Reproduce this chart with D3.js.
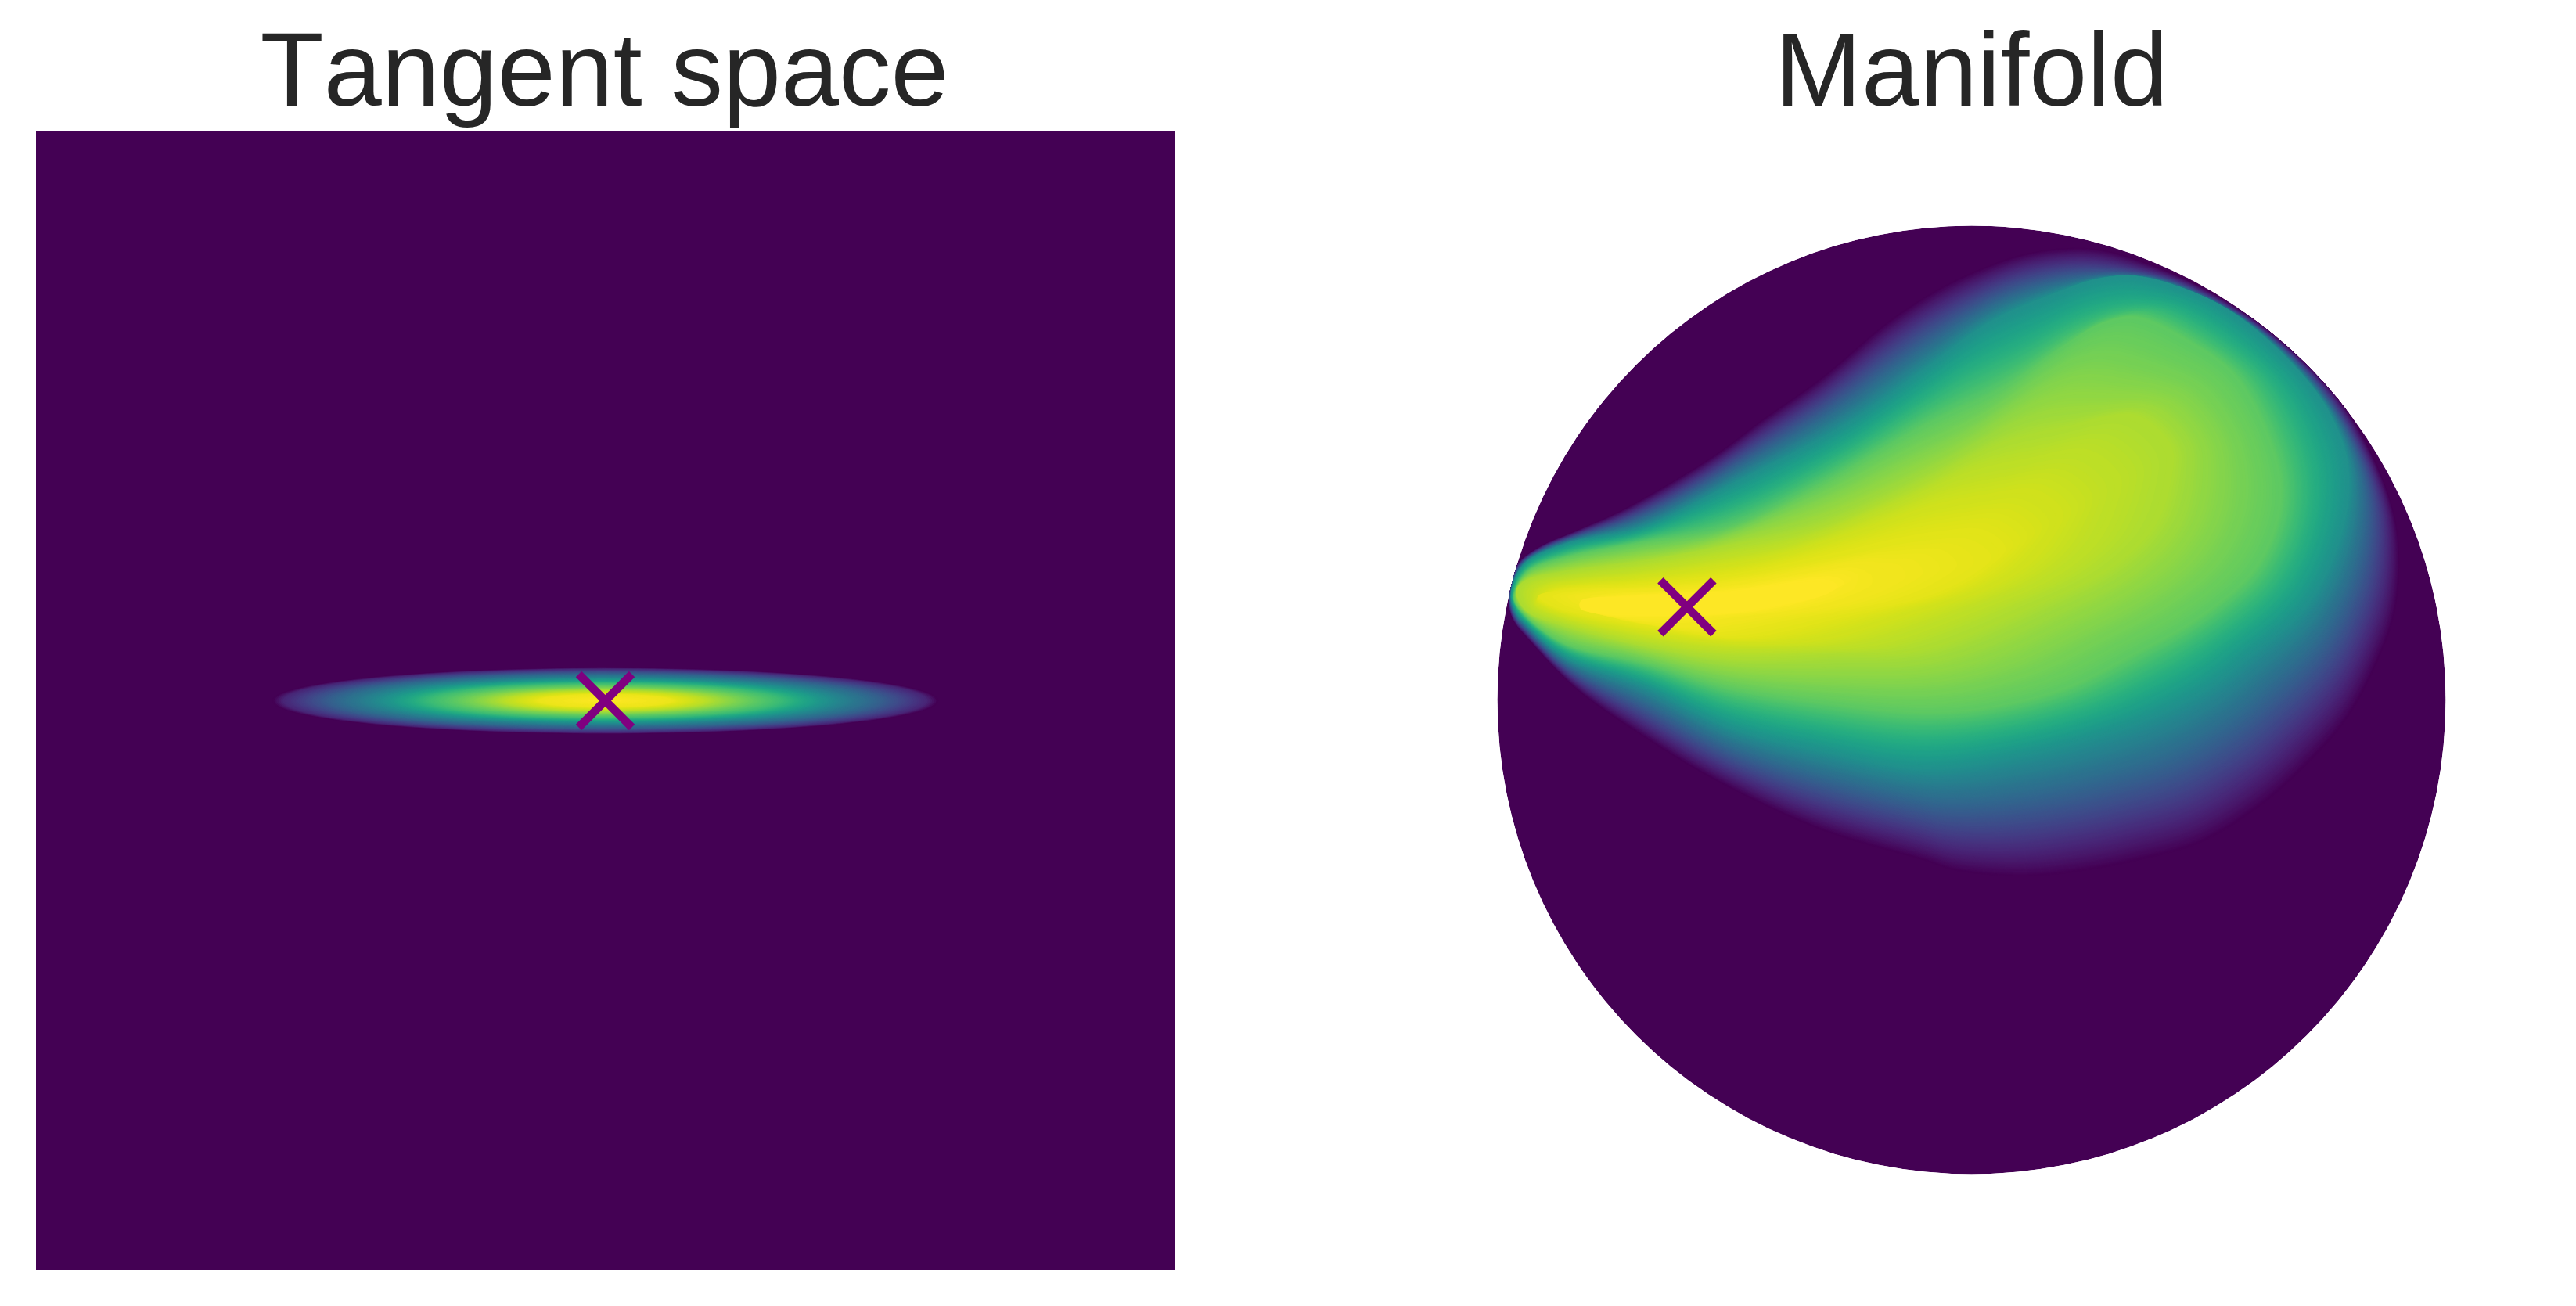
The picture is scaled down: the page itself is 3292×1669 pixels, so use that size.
<!DOCTYPE html>
<html>
<head>
<meta charset="utf-8">
<script src="https://cdn.jsdelivr.net/npm/d3@7/dist/d3.min.js"></script>
<style>html,body{margin:0;padding:0;background:#fff}svg{display:block}</style>
</head>
<body>
<script>
// ---- Panel titles
const panelTitles = ["Tangent space", "Manifold"];

// ---- Tangent space: elliptical density, level read along the normalised radius
const tangentCentre = [0, 0];
const tangentRadii = [0.585, 0.058];
const tangentRho = [0, 0.2, 0.3, 0.42, 0.53, 0.667, 0.83, 0.97, 1];
const tangentLevel = [1, 0.97, 0.9, 0.78, 0.68, 0.5, 0.3, 0.1, 0];

// ---- Manifold: iso-density contours, in unit-disc coordinates
const manifoldLevels = [0, 0.5, 0.75, 0.875, 0.96, 1];
const contourEdge = [[-0.976,0.205],[-0.960,0.283],[-0.915,0.321],[-0.834,0.357],[-0.732,0.403],[-0.540,0.517],[-0.445,0.588],[-0.319,0.677],[-0.171,0.801],[-0.060,0.872],[0.042,0.918],[0.115,0.941],[0.189,0.952],[0.263,0.951],[0.336,0.933],[0.483,0.872],[0.631,0.776],[0.778,0.630],[0.852,0.501],[0.892,0.387],[0.902,0.293],[0.892,0.184],[0.862,0.095],[0.793,-0.037],[0.697,-0.146],[0.601,-0.229],[0.483,-0.301],[0.347,-0.339],[0.263,-0.356],[0.115,-0.372],[-0.032,-0.360],[-0.098,-0.339],[-0.319,-0.273],[-0.540,-0.169],[-0.687,-0.080],[-0.834,0.024],[-0.930,0.123],[-0.966,0.167]];
const contourTeal = [[-0.971,0.222],[-0.945,0.285],[-0.857,0.329],[-0.692,0.366],[-0.511,0.453],[-0.260,0.585],[-0.098,0.699],[0.042,0.799],[0.182,0.860],[0.265,0.888],[0.347,0.894],[0.463,0.862],[0.557,0.813],[0.667,0.719],[0.748,0.618],[0.793,0.501],[0.785,0.370],[0.712,0.205],[0.578,0.085],[0.499,0.024],[0.380,-0.037],[0.263,-0.078],[0.115,-0.116],[-0.098,-0.146],[-0.319,-0.108],[-0.511,-0.059],[-0.692,0.029],[-0.857,0.090],[-0.940,0.161],[-0.960,0.184]];
const contourGreen = [[-0.965,0.214],[-0.940,0.268],[-0.857,0.301],[-0.692,0.333],[-0.511,0.365],[-0.313,0.458],[-0.098,0.580],[0.067,0.659],[0.199,0.750],[0.275,0.795],[0.347,0.808],[0.463,0.755],[0.557,0.684],[0.628,0.552],[0.653,0.453],[0.644,0.370],[0.595,0.271],[0.479,0.172],[0.347,0.098],[0.199,0.024],[0.034,-0.017],[-0.098,-0.027],[-0.296,-0.009],[-0.511,0.024],[-0.692,0.078],[-0.857,0.118],[-0.940,0.177]];
const contourLime = [[-0.960,0.230],[-0.940,0.252],[-0.857,0.271],[-0.692,0.293],[-0.511,0.326],[-0.313,0.370],[-0.098,0.463],[0.067,0.544],[0.199,0.577],[0.347,0.601],[0.422,0.535],[0.422,0.469],[0.389,0.370],[0.298,0.280],[0.133,0.197],[-0.098,0.106],[-0.296,0.093],[-0.511,0.087],[-0.692,0.115],[-0.857,0.156],[-0.940,0.189]];
const contourYellow = [[-0.915,0.219],[-0.857,0.233],[-0.692,0.243],[-0.511,0.260],[-0.313,0.296],[-0.098,0.336],[0.001,0.337],[0.042,0.301],[0.001,0.263],[-0.098,0.217],[-0.313,0.172],[-0.511,0.134],[-0.692,0.159],[-0.857,0.189],[-0.899,0.205]];
const contourPeak = [[-0.824,0.209],[-0.692,0.219],[-0.511,0.227],[-0.313,0.247],[-0.296,0.230],[-0.511,0.184],[-0.692,0.181],[-0.824,0.192]];
const manifoldContours = [contourEdge, contourTeal, contourGreen, contourLime, contourYellow, contourPeak];

// ---- Marker positions
const tangentMarker = [0, 0];
const manifoldMarker = [-0.600, 0.196];

// ---- Layout
const W = 3292, H = 1669;
const ink = "#262626", markerColor = "#800080";
const svg = d3.select("body").append("svg").attr("width", W).attr("height", H)
  .attr("viewBox", `0 0 ${W} ${H}`);
svg.append("rect").attr("width", W).attr("height", H).attr("fill", "#fff");

const tx = d3.scaleLinear().domain([-1, 1]).range([46, 1501]);
const ty = d3.scaleLinear().domain([-1, 1]).range([1623, 168]);
const mx = d3.scaleLinear().domain([-1, 1]).range([2519.5 - 606, 2519.5 + 606]);
const my = d3.scaleLinear().domain([-1, 1]).range([894.5 + 606, 894.5 - 606]);
const color = d3.interpolateViridis;

// ---- Left panel
const left = svg.append("g");
left.append("rect")
  .attr("x", tx(-1)).attr("y", ty(1))
  .attr("width", tx(1) - tx(-1)).attr("height", ty(-1) - ty(1))
  .attr("fill", color(0));
const rhoToLevel = d3.scaleLinear().domain(tangentRho).range(tangentLevel);
left.append("g").selectAll("ellipse")
  .data(d3.range(1, 0, -1 / 160))
  .join("ellipse")
  .attr("cx", tx(tangentCentre[0])).attr("cy", ty(tangentCentre[1]))
  .attr("rx", d => (tx(tangentRadii[0]) - tx(0)) * d)
  .attr("ry", d => (ty(0) - ty(tangentRadii[1])) * d)
  .attr("fill", d => color(rhoToLevel(d)));

// ---- Right panel
svg.append("clipPath").attr("id", "disc").append("circle")
  .attr("cx", mx(0)).attr("cy", my(0)).attr("r", mx(1) - mx(0));
const right = svg.append("g").attr("clip-path", "url(#disc)");
right.append("circle")
  .attr("cx", mx(0)).attr("cy", my(0)).attr("r", mx(1) - mx(0))
  .attr("fill", color(0));

const contourLine = d3.line().x(d => mx(d[0])).y(d => my(d[1]))
  .curve(d3.curveCatmullRomClosed.alpha(0.5));
const SAMPLES = 360;
const probe = svg.append("path").attr("fill", "none").attr("stroke", "none");
const resampled = manifoldContours.map(c => {
  probe.attr("d", contourLine(c));
  const node = probe.node(), L = node.getTotalLength();
  return d3.range(SAMPLES).map(i => {
    const p = node.getPointAtLength(L * i / SAMPLES);
    return [p.x, p.y];
  });
});
probe.remove();
const pixelLine = d3.line().curve(d3.curveLinearClosed);
const bands = right.append("g");
manifoldLevels.slice(0, -1).forEach((lo, k) => {
  const hi = manifoldLevels[k + 1];
  const steps = Math.max(8, Math.round((hi - lo) * 300));
  const between = d3.interpolate(resampled[k], resampled[k + 1]);
  d3.range(steps).forEach(s => {
    const f = s / steps;
    bands.append("path")
      .attr("d", pixelLine(between(f)))
      .attr("fill", color(lo + (hi - lo) * f));
  });
});
bands.append("path")
  .attr("d", pixelLine(resampled[resampled.length - 1]))
  .attr("fill", color(1));

// ---- Markers
const ARM = 34;
function cross(g, x, y) {
  [[-1, -1, 1, 1], [-1, 1, 1, -1]].forEach(s => {
    g.append("line")
      .attr("x1", x + s[0] * ARM).attr("y1", y + s[1] * ARM)
      .attr("x2", x + s[2] * ARM).attr("y2", y + s[3] * ARM)
      .attr("stroke", markerColor).attr("stroke-width", 10.5);
  });
}
cross(svg, tx(tangentMarker[0]), ty(tangentMarker[1]));
cross(svg, mx(manifoldMarker[0]), my(manifoldMarker[1]));

// ---- Titles
svg.selectAll("text.title").data(panelTitles).join("text")
  .attr("class", "title")
  .attr("x", (d, i) => i === 0 ? tx(0) - 1 : mx(0))
  .attr("y", 135)
  .attr("text-anchor", "middle")
  .attr("font-family", "'Liberation Sans', Arial, sans-serif")
  .attr("font-size", 133)
  .style("font-kerning", "none")
  .attr("fill", ink)
  .text(d => d);
</script>
</body>
</html>
